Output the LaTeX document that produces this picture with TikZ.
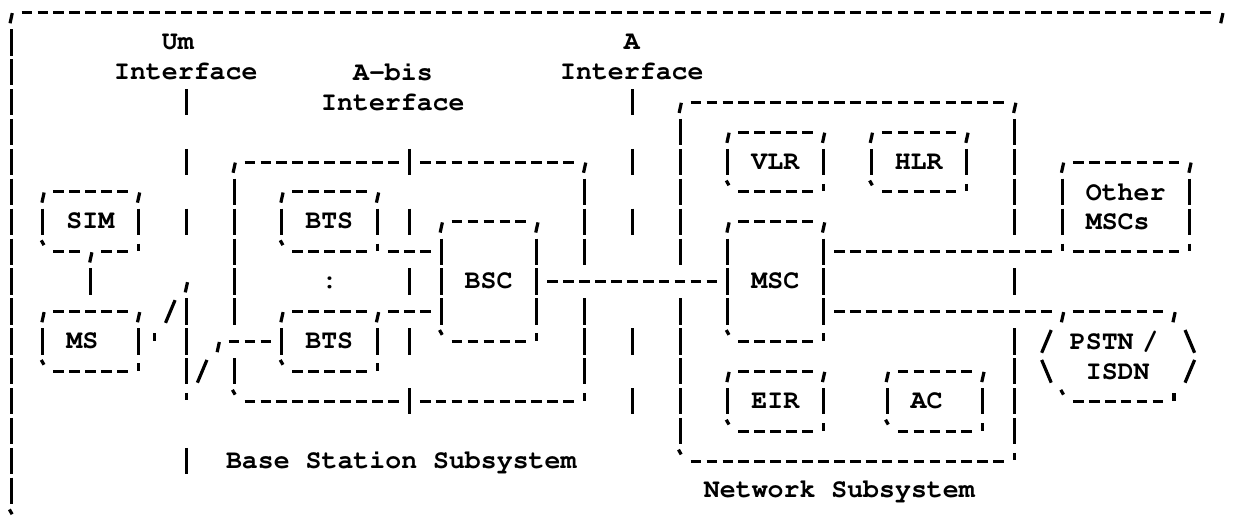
\documentclass[tikz,border=0pt]{standalone}
\usepackage[T1]{fontenc}
\renewcommand\ttdefault{pcr}

% top and bottom edge of a box, with its corner marks
% (optional 1: bottom left corner joined by a line)
\newcommand\asciiedges[2][0]{%
  \draw[hdash] (#2.north west) -- (#2.north east);
  \draw[hdash] (#2.south west) -- (#2.south east);
  \draw[glyph] ([shift={(0.08,0.02)}]#2.north west) -- ++(-0.14,0.34);
  \draw[glyph] ([shift={(0.08,0.02)}]#2.north east) -- ++(-0.14,0.34);
  \ifnum#1=0
    \draw[glyph] ([shift={(-0.1,-0.38)}]#2.south west) -- ++(0.17,0.16);
  \else
    \draw[glyph] ([shift={(0,-0.27)}]#2.south west) -- ++(0,0.25);
  \fi
  \draw[glyph] ([shift={(0,-0.27)}]#2.south east) -- ++(0,0.25);}
% whole box
\newcommand\asciiframe[2][0]{%
  \asciiedges[#1]{#2}%
  \draw[vdash] (#2.north west) -- (#2.south west);
  \draw[vdash] (#2.north east) -- (#2.south east);}

\begin{document}
\begin{tikzpicture}[x=15.93pt, y=-29.9pt,
  cell/.style={font=\ttfamily\bfseries\fontsize{26.55pt}{29.9pt}\selectfont, inner sep=0pt, outer sep=0pt},
  boxsize/.style 2 args={minimum width=#1*15.93pt, minimum height=#2*29.9pt},
  oneline/.style={text height=16pt, text depth=2pt},
  unit/.style={cell, oneline, text width=48.5pt, align=left},
  iflabel/.style={cell, text width=144.2pt, align=left, minimum height=59.8pt},
  hdash/.style={line width=3pt, dash pattern=on 10.67pt off 5.26pt, dash phase=13.3pt, shorten <=7.965pt, shorten >=7.965pt},
  vdash/.style={line width=3pt, dash pattern=on 26.31pt off 3.59pt, dash phase=28.11pt, shorten <=14.95pt, shorten >=14.95pt},
  link/.style={preaction={hdash, draw=white, line width=26.6pt}, hdash},
  ifline/.style={line width=3pt, preaction={draw=white, line width=11pt}},
  glyph/.style={line width=3.2pt}]

\fill[white] (-0.6905,-0.418) rectangle (76.899,16.973);
\useasboundingbox (-0.6905,-0.418) rectangle (76.899,16.973);

% subsystems
\node[cell, boxsize={76}{17}] (gsm) at (38,8.5) {};
\node[cell, boxsize={22}{8}] (bss) at (25,9) {};
\node[cell, boxsize={21}{12}] (nss) at (52.5,9) {};

% units
\node[unit, boxsize={6}{2}] (sim) at (5,7) {SIM};
\node[unit, boxsize={6}{2}] (ms) at (5,11) {MS};
\node[unit, boxsize={6}{2}] (bts1) at (20,7) {BTS};
\node[unit, boxsize={6}{2}] (bts2) at (20,11) {BTS};
\node[unit, boxsize={6}{4}] (bsc) at (30,9) {BSC};
\node[unit, boxsize={6}{2}] (vlr) at (48,5) {VLR};
\node[unit, boxsize={6}{2}] (hlr) at (57,5) {HLR};
\node[unit, boxsize={6}{4}] (msc) at (48,9) {MSC};
\node[unit, boxsize={6}{2}] (eir) at (48,13) {EIR};
\node[unit, boxsize={6}{2}] (ac) at (58,13) {AC};
\node[cell, boxsize={8}{3}, text width=80.5pt, align=left] (other) at (70,6.5) {Other\\MSCs};
\node[cell, boxsize={7}{3}, text width=96.5pt, align=left] (pstn) at (69.5,11.5) {PSTN /\\\hphantom{0}ISDN};
\node[cell, oneline] (dots) at (20,9) {:};

% labels
\node[iflabel] (um label) at (11,1.5) {\hphantom{000}Um\\Interface};
\node[iflabel] (abis label) at (24,2.5) {\hphantom{00}A-bis\\Interface};
\node[iflabel] (a label) at (39,1.5) {\hphantom{0000}A\\Interface};
\node[cell, oneline] (bss label) at (24.5,15) {Base Station Subsystem};
\node[cell, oneline] (nss label) at (52,16) {Network Subsystem};

% outline
\draw[hdash] (gsm.north west) -- (gsm.north east);
\draw[vdash] (gsm.north west) -- (gsm.south west);
\draw[glyph] ([shift={(0.08,0.02)}]gsm.north west) -- ++(-0.14,0.34);
\draw[glyph] ([shift={(0.08,0.02)}]gsm.north east) -- ++(-0.14,0.34);
\draw[glyph] ([shift={(-0.1,-0.38)}]gsm.south west) -- ++(0.17,0.16);

\foreach \n in {bss,nss,sim,ms,bts1,bts2,bsc,vlr,hlr,msc,eir,ac} {\asciiframe{\n}}
\asciiframe[1]{other}
\asciiedges{pstn}

% interfaces
\coordinate (um end) at (11,15.5);
\coordinate (a end) at (39,13.5);
\draw[ifline, dash pattern=on 26.31pt off 33.49pt on 26.31pt off 33.49pt on 26.31pt off 212.89pt on 26.31pt off 33.49pt, dash phase=416.81pt] (um label.south) -- (um end);
\draw[ifline, dash pattern=on 26.31pt off 33.49pt on 26.31pt off 33.49pt on 26.31pt off 93.29pt on 26.31pt off 33.49pt on 26.31pt off 33.49pt, dash phase=357.01pt] (a label.south) -- (a end);
\draw[ifline, dash pattern=on 26.31pt off 33.49pt, dash phase=28.11pt] (abis label.south -| bss.north) -- ([yshift=-14.95pt]bss.south);

% links
\draw[link] (bsc.east) -- (msc.west);
\draw[link] (msc.east |- other.south) -- (other.south west);
\draw[link] (msc.east |- pstn.north) -- (pstn.north west);
\draw[link] (bts1.south east) -- (bts1.south east -| bsc.west);
\draw[link] (bts2.north east) -- (bts2.north east -| bsc.west);
\fill[white] ([shift={(-0.4,-0.3)}]sim.south) rectangle ([shift={(0.4,0.3)}]sim.south);
\draw[glyph] ([shift={(0.08,0.02)}]sim.south) -- ++(-0.14,0.34);
\draw[vdash] (sim.south) -- (ms.north);

% radio link
\coordinate (bolt top) at (11,9);
\coordinate (bolt foot) at (11,13);
\coordinate (bolt tip) at (13,11);
\draw[glyph] (9,10.72) -- (9,10.97);
\draw[glyph] (9.7,10.38) -- (10.3,9.62);
\draw[glyph] (11.08,9.02) -- (10.94,9.36);
\draw[vdash] (bolt top) -- (bolt foot);
\draw[glyph] (11,12.72) -- (11,12.97);
\draw[glyph] (11.7,12.38) -- (12.3,11.62);
\draw[glyph] (13.08,11.02) -- (12.94,11.36);
\draw[link] (bolt tip) -- (bts2.west);

% pstn sides
\draw[glyph] (65.3,10.62) -- (64.7,11.38);
\draw[glyph] (64.7,11.62) -- (65.3,12.38);
\draw[glyph] (73.7,10.62) -- (74.3,11.38);
\draw[glyph] (74.3,11.62) -- (73.7,12.38);
\end{tikzpicture}
\end{document}
